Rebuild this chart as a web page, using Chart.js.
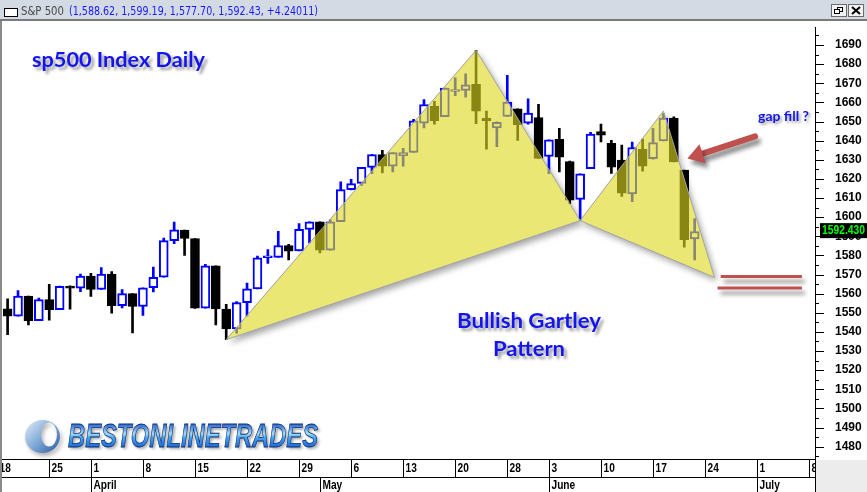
<!DOCTYPE html>
<html>
<head>
<meta charset="utf-8">
<script src="https://cdn.jsdelivr.net/npm/chart.js@4.4.1/dist/chart.umd.min.js"></script>
<style>
html, body { margin: 0; padding: 0; background: #fff; overflow: hidden; }
</style>
</head>
<body>
<canvas id="spx-chart" width="867" height="492"></canvas>
<script>
// S&P 500 daily, 19 Mar - 21 Jun (trading day index 0..66)
const days = ['3/19','3/20','3/21','3/22','3/25','3/26','3/27','3/28','4/1','4/2','4/3','4/4','4/5','4/8','4/9','4/10','4/11','4/12','4/15','4/16','4/17','4/18','4/19','4/22','4/23','4/24','4/25','4/26','4/29','4/30','5/1','5/2','5/3','5/6','5/7','5/8','5/9','5/10','5/13','5/14','5/15','5/16','5/17','5/20','5/21','5/22','5/23','5/24','5/28','5/29','5/30','5/31','6/3','6/4','6/5','6/6','6/7','6/10','6/11','6/12','6/13','6/14','6/17','6/18','6/19','6/20','6/21'];
const opens  = [1552.1,1548.3,1558.7,1545.9,1556.9,1551.7,1563.8,1562.9,1569.2,1562.2,1570.3,1553.7,1560.0,1553.3,1563.1,1568.6,1587.7,1593.3,1588.8,1552.4,1574.6,1552.0,1541.6,1555.3,1562.5,1578.8,1578.9,1585.2,1582.3,1593.6,1597.6,1582.8,1597.6,1614.4,1617.6,1626.0,1632.7,1626.7,1632.1,1633.8,1649.1,1658.1,1652.5,1665.7,1666.2,1669.4,1651.6,1646.7,1652.6,1656.6,1649.1,1652.1,1631.7,1640.7,1629.1,1609.3,1625.3,1644.7,1638.6,1629.9,1612.2,1635.5,1630.6,1639.8,1651.8,1624.6,1588.6];
const highs  = [1557.3,1561.6,1558.7,1557.7,1564.9,1564.0,1564.1,1570.3,1570.6,1573.7,1571.5,1562.2,1560.0,1563.1,1573.9,1589.1,1597.4,1593.3,1588.8,1575.4,1574.6,1554.4,1555.9,1565.6,1579.6,1583.0,1592.6,1585.8,1596.7,1597.6,1597.6,1598.6,1618.5,1619.8,1626.0,1632.8,1635.0,1633.7,1636.0,1651.1,1661.5,1660.5,1667.5,1672.8,1674.9,1687.2,1655.5,1649.8,1674.2,1656.6,1661.9,1659.0,1640.4,1646.5,1629.3,1622.6,1644.4,1648.7,1640.1,1637.7,1639.3,1640.8,1646.5,1654.2,1652.5,1624.6,1599.2];
const lows   = [1538.6,1548.3,1543.6,1545.9,1546.2,1551.7,1551.9,1561.1,1558.5,1562.2,1549.8,1552.5,1539.5,1548.6,1560.9,1568.6,1586.2,1580.0,1552.3,1552.4,1543.7,1536.0,1539.4,1548.2,1562.5,1575.8,1578.9,1577.6,1582.3,1586.5,1581.3,1582.8,1597.6,1614.2,1616.6,1622.7,1623.1,1623.7,1626.7,1633.8,1646.7,1648.6,1652.5,1663.5,1662.7,1648.9,1635.5,1636.9,1652.6,1640.1,1648.6,1630.7,1622.7,1623.6,1607.1,1598.2,1625.3,1639.3,1622.9,1610.9,1608.1,1624.0,1630.3,1639.8,1628.9,1584.3,1577.7];
const closes = [1548.3,1558.7,1545.8,1556.9,1551.7,1563.8,1562.9,1569.2,1562.2,1570.3,1553.7,1560.0,1553.3,1563.1,1568.6,1587.7,1593.4,1588.9,1552.4,1574.6,1552.0,1541.6,1555.3,1562.5,1578.8,1578.8,1585.2,1582.2,1593.6,1597.6,1582.7,1597.6,1614.4,1617.5,1626.0,1632.7,1626.7,1633.7,1633.8,1650.3,1658.8,1650.5,1667.5,1666.3,1669.2,1655.4,1650.5,1649.6,1660.1,1648.4,1654.4,1630.7,1640.4,1631.4,1608.9,1622.6,1643.4,1642.8,1626.1,1612.5,1636.4,1626.7,1639.0,1651.8,1628.9,1588.2,1592.4];

// axis labels
const weekIdx    = [-1, 4, 8, 13, 18, 23, 28, 33, 38, 43, 48, 52, 57, 62, 67, 72, 77];
const weekLabels = ['18','25','1','8','15','22','29','6','13','20','28','3','10','17','24','1','8'];
const monthIdx    = [8, 30, 52, 72];
const monthLabels = ['April', 'May', 'June', 'July'];
const priceTicks = [];
for (let v = 1475; v <= 1700; v += 5) priceTicks.push(v);

// Gartley legs (index, price)
const legOneX = [21, 45, 55, 21];
const legOneY = [1536.0, 1687.2, 1598.2, 1536.0];
const legTwoX = [55, 63, 67.9, 55];
const legTwoY = [1598.2, 1655.5, 1568.5, 1598.2];
const gapLevels = [1569, 1563];
const lastClose = 1592.43;

const up = days.map((d, i) => closes[i] >= opens[i]);
const triFill = 'rgba(222,216,30,0.62)';

// wanted frame: plot box 3..815 x 21..459, 1690 at y=45, 1480 at y=446.7
const frame = { left: 3, right: 815, top: 21, bottom: 459 };
const yPix = { hi: 1690, hiY: 45, lo: 1480, loY: 446.7 };

function condensed(ctx, text, x, y, sx) {
    ctx.save();
    ctx.translate(x, y);
    ctx.scale(sx, 1);
    ctx.fillText(text, 0, 0);
    ctx.restore();
}

function fitText(ctx, text, x, y, width) {
    const w = ctx.measureText(text).width;
    condensed(ctx, text, x, y, width / w);
}

function drawLogo(ctx) {
    ctx.save();
    ctx.shadowColor = 'rgba(0,0,0,0.3)';
    ctx.shadowBlur = 4;
    ctx.shadowOffsetX = 2;
    ctx.shadowOffsetY = 3;
    const rg = ctx.createLinearGradient(25, 420, 60, 453);
    rg.addColorStop(0, '#e6eef8');
    rg.addColorStop(0.5, '#7fa9d8');
    rg.addColorStop(1, '#2a5c9e');
    ctx.fillStyle = rg;
    ctx.beginPath();
    ctx.ellipse(42.5, 436.5, 17.5, 16.5, 0, 0, Math.PI * 2);
    ctx.moveTo(57, 434.5);
    ctx.ellipse(49, 434.5, 8, 12, 0, 0, Math.PI * 2);
    ctx.fill('evenodd');
    ctx.restore();

    ctx.save();
    ctx.font = 'italic bold 33px "Liberation Sans Narrow", "Arial Narrow", "Liberation Sans", Arial';
    ctx.textBaseline = 'alphabetic';
    const text = 'BESTONLINETRADES';
    const w = ctx.measureText(text).width;
    ctx.translate(68, 447);
    ctx.scale(250 / w, 1);
    const g = ctx.createLinearGradient(0, -24, 0, 0);
    g.addColorStop(0, '#1c58cc');
    g.addColorStop(0.45, '#a6e0ff');
    g.addColorStop(0.6, '#4aa6f0');
    g.addColorStop(1, '#1c6ad8');
    ctx.shadowColor = 'rgba(0,0,0,0.35)';
    ctx.shadowBlur = 3;
    ctx.shadowOffsetX = 2;
    ctx.shadowOffsetY = 2;
    ctx.fillStyle = g;
    ctx.fillText(text, 0, 0);
    ctx.shadowColor = 'transparent';
    ctx.strokeStyle = '#0d2f70';
    ctx.lineWidth = 0.8;
    ctx.strokeText(text, 0, 0);
    ctx.restore();
}

const decor = {
    id: 'decor',
    beforeDraw(chart) {
        const ctx = chart.ctx;
        ctx.save();
        ctx.fillStyle = '#fff';
        ctx.fillRect(0, 0, chart.width, chart.height);
        ctx.restore();
    },
    beforeDatasetsDraw(chart) {
        const ctx = chart.ctx, x = chart.scales.x, y = chart.scales.y;
        ctx.save();
        ctx.shadowColor = 'rgba(0,0,0,0.35)';
        ctx.shadowBlur = 6;
        ctx.shadowOffsetX = 3;
        ctx.shadowOffsetY = 4;
        ctx.fillStyle = '#fff';
        [[legOneX, legOneY], [legTwoX, legTwoY]].forEach(([xs, ys]) => {
            ctx.beginPath();
            xs.forEach((v, i) => {
                const px = x.getPixelForValue(v), py = y.getPixelForValue(ys[i]);
                i ? ctx.lineTo(px, py) : ctx.moveTo(px, py);
            });
            ctx.closePath();
            ctx.fill();
        });
        ctx.restore();
    },
    afterDraw(chart) {
        const ctx = chart.ctx, x = chart.scales.x, y = chart.scales.y;
        const area = chart.chartArea;

        // right axis tick marks
        ctx.save();
        ctx.strokeStyle = '#000';
        ctx.lineWidth = 1;
        priceTicks.forEach(v => {
            const py = Math.round(y.getPixelForValue(v)) + 0.5;
            if (py < area.top || py > area.bottom) return;
            ctx.beginPath();
            ctx.moveTo(area.right, py);
            ctx.lineTo(area.right + (v % 10 === 0 ? 9 : 4), py);
            ctx.stroke();
        });

        // last price box
        const ly = y.getPixelForValue(lastClose);
        ctx.fillStyle = '#000';
        ctx.fillRect(area.right + 5, ly - 8.5, 47, 15);
        ctx.fillStyle = '#00ff00';
        ctx.font = 'bold 12px "Liberation Sans", Arial';
        ctx.textBaseline = 'middle';
        fitText(ctx, lastClose.toFixed(3), area.right + 7, ly - 0.5, 43);

        // gap levels
        ctx.shadowColor = 'rgba(0,0,0,0.45)';
        ctx.shadowBlur = 4;
        ctx.shadowOffsetX = 3;
        ctx.shadowOffsetY = 5;
        ctx.strokeStyle = '#c0504d';
        ctx.lineWidth = 3;
        gapLevels.forEach((v, i) => {
            const py = y.getPixelForValue(v);
            ctx.beginPath();
            ctx.moveTo(x.getPixelForValue(i ? 68.2 : 68.5), py);
            ctx.lineTo(x.getPixelForValue(76.3), py);
            ctx.stroke();
        });

        // arrow to the gap
        const ax0 = x.getPixelForValue(71.8), ay0 = y.getPixelForValue(1642.2);
        const ax1 = x.getPixelForValue(65.3), ay1 = y.getPixelForValue(1630.6);
        const ang = Math.atan2(ay1 - ay0, ax1 - ax0);
        const hx = ax1 - Math.cos(ang) * 16, hy = ay1 - Math.sin(ang) * 16;
        ctx.lineWidth = 6;
        ctx.lineCap = 'round';
        ctx.beginPath();
        ctx.moveTo(ax0, ay0);
        ctx.lineTo(hx, hy);
        ctx.stroke();
        ctx.fillStyle = '#c0504d';
        ctx.beginPath();
        ctx.moveTo(ax1, ay1);
        ctx.lineTo(hx + Math.sin(ang) * 10, hy - Math.cos(ang) * 10);
        ctx.lineTo(hx - Math.sin(ang) * 10, hy + Math.cos(ang) * 10);
        ctx.closePath();
        ctx.fill();

        // notes
        ctx.shadowColor = 'rgba(0,0,0,0.4)';
        ctx.shadowBlur = 3;
        ctx.shadowOffsetX = 3;
        ctx.shadowOffsetY = 3;
        ctx.fillStyle = '#1414f0';
        ctx.textBaseline = 'alphabetic';
        ctx.font = 'bold 21px Lato, "Open Sans", sans-serif';
        fitText(ctx, 'sp500 Index Daily', 32, 67, 173);
        ctx.font = 'bold 20px Lato, "Open Sans", sans-serif';
        fitText(ctx, 'Bullish Gartley', 457, 328, 144);
        fitText(ctx, 'Pattern', 493, 356, 72);
        ctx.shadowOffsetX = 2;
        ctx.shadowOffsetY = 2;
        ctx.font = 'bold 13px Lato, "Open Sans", sans-serif';
        fitText(ctx, 'gap fill ?', 758, 121, 51);

        drawLogo(ctx);
        ctx.restore();

        // header bar
        ctx.save();
        ctx.fillStyle = '#d3dae4';
        ctx.fillRect(0, 0, chart.width, 20);
        ctx.fillStyle = '#7a7a7a';
        ctx.fillRect(0, 19, chart.width, 2);
        ctx.fillStyle = '#fff';
        ctx.strokeStyle = '#000';
        ctx.lineWidth = 1;
        ctx.fillRect(4.5, 8.5, 13, 8);
        ctx.strokeRect(4.5, 8.5, 13, 8);
        ctx.font = '11.5px "DejaVu Sans", "Liberation Sans", Arial';
        ctx.textBaseline = 'alphabetic';
        ctx.fillStyle = '#4a4a4a';
        fitText(ctx, 'S&P 500', 21, 15, 43);
        ctx.fillStyle = '#1a1af5';
        fitText(ctx, '(1,588.62, 1,599.19, 1,577.70, 1,592.43, +4.24011)', 69, 15, 249);
        [[831, 'r'], [848, 'x']].forEach(([bx, kind]) => {
            ctx.fillStyle = '#f2f2f2';
            ctx.fillRect(bx + 0.5, 4.5, 15, 12);
            ctx.strokeStyle = '#6b6b6b';
            ctx.strokeRect(bx + 0.5, 4.5, 15, 12);
            ctx.strokeStyle = '#000';
            if (kind === 'x') {
                ctx.lineWidth = 2;
                ctx.beginPath();
                ctx.moveTo(bx + 4, 7); ctx.lineTo(bx + 12, 14);
                ctx.moveTo(bx + 12, 7); ctx.lineTo(bx + 4, 14);
                ctx.stroke();
                ctx.lineWidth = 1;
            } else {
                ctx.strokeRect(bx + 6.5, 7.5, 5, 4);
                ctx.fillStyle = '#fff';
                ctx.fillRect(bx + 3.5, 9.5, 5, 4);
                ctx.strokeRect(bx + 3.5, 9.5, 5, 4);
            }
        });

        // left window border
        ctx.fillStyle = '#8a8a8a';
        ctx.fillRect(0, 21, 2, chart.height - 21);

        // date axis
        const top = frame.bottom, mid = frame.bottom + 18, bot = chart.height;
        ctx.fillStyle = '#fff';
        ctx.fillRect(2, top, area.right - 2, bot - top);
        ctx.fillStyle = '#ececec';
        ctx.fillRect(area.right + 1, top + 1, chart.width - area.right, bot - top);
        ctx.strokeStyle = '#000';
        ctx.lineWidth = 1;
        ctx.beginPath();
        ctx.moveTo(2, top + 0.5); ctx.lineTo(area.right + 0.5, top + 0.5);
        ctx.moveTo(2, mid + 0.5); ctx.lineTo(area.right + 0.5, mid + 0.5);
        ctx.moveTo(area.right + 0.5, area.bottom); ctx.lineTo(area.right + 0.5, bot);
        ctx.stroke();
        ctx.beginPath();
        ctx.rect(2, top, area.right - 2, bot - top);
        ctx.clip();
        ctx.fillStyle = '#000';
        ctx.font = 'bold 13px "Liberation Sans", Arial';
        ctx.textBaseline = 'middle';
        weekIdx.forEach((v, i) => {
            const px = Math.round(x.getPixelForValue(v)) + 0.5;
            ctx.beginPath();
            ctx.moveTo(px, top); ctx.lineTo(px, mid);
            ctx.stroke();
            condensed(ctx, weekLabels[i], px + 2, top + 9.5, 0.78);
        });
        monthIdx.forEach((v, i) => {
            const px = Math.round(x.getPixelForValue(v)) + 0.5;
            ctx.beginPath();
            ctx.moveTo(px, mid); ctx.lineTo(px, bot);
            ctx.stroke();
            condensed(ctx, monthLabels[i], px + 2, mid + 8.5, 0.78);
        });
        ctx.restore();
    }
};

const ctx = document.getElementById('spx-chart').getContext('2d');
const chart = new Chart(ctx, {
    type: 'bar',
    data: {
        datasets: [
            {
                type: 'line',
                data: legOneX.map((v, i) => ({ x: v, y: legOneY[i] })),
                borderColor: '#a3a3a3',
                borderWidth: 1,
                backgroundColor: triFill,
                fill: 'shape',
                pointRadius: 0,
                tension: 0,
                order: 0
            },
            {
                type: 'line',
                data: legTwoX.map((v, i) => ({ x: v, y: legTwoY[i] })),
                borderColor: '#a3a3a3',
                borderWidth: 1,
                backgroundColor: triFill,
                fill: 'shape',
                pointRadius: 0,
                tension: 0,
                order: 0
            },
            {
                label: 'body',
                data: days.map((d, i) => ({ x: i, y: [opens[i], closes[i]] })),
                backgroundColor: up.map(u => u ? '#ffffff' : '#000000'),
                borderColor: up.map(u => u ? '#0000ff' : '#000000'),
                borderWidth: 2,
                borderSkipped: false,
                barThickness: 9,
                minBarLength: 2,
                grouped: false,
                order: 1
            },
            {
                label: 'wick',
                data: days.map((d, i) => ({ x: i, y: [lows[i], highs[i]] })),
                backgroundColor: up.map(u => u ? '#0000ff' : '#000000'),
                borderWidth: 0,
                barThickness: 2,
                grouped: false,
                order: 2
            }
        ]
    },
    options: {
        responsive: false,
        animation: false,
        events: [],
        layout: { padding: { left: frame.left, top: frame.top, right: 0, bottom: 492 - frame.bottom } },
        scales: {
            x: {
                type: 'linear',
                min: -0.44,
                max: 77.56,
                offset: false,
                display: false
            },
            y: {
                type: 'linear',
                position: 'right',
                min: 1473.58,
                max: 1702.55,
                afterFit: s => { s.width = 867 - frame.right; },
                afterBuildTicks: s => { s.ticks = priceTicks.filter(v => v >= s.min && v <= s.max).map(v => ({ value: v })); },
                grid: { drawOnChartArea: false, drawTicks: false },
                border: { display: true, color: '#000', width: 1 },
                ticks: {
                    autoSkip: false,
                    padding: 20,
                    color: '#000',
                    font: { family: '"Liberation Sans", Arial', weight: 'bold', size: 12 },
                    callback: v => (v % 10 === 0 && v <= 1690) ? String(v) : ''
                }
            }
        },
        plugins: {
            legend: { display: false },
            tooltip: { enabled: false }
        }
    },
    plugins: [decor]
});

// pull the plot box back to the wanted frame, then pin the price scale to it
let a = chart.chartArea;
const pad = chart.options.layout.padding;
pad.top = frame.top - (a.top - frame.top);
pad.bottom = (492 - frame.bottom) - (frame.bottom - a.bottom);
chart.update();
a = chart.chartArea;
const perUnit = (yPix.loY - yPix.hiY) / (yPix.hi - yPix.lo);
chart.options.scales.y.max = yPix.hi + (yPix.hiY - a.top) / perUnit;
chart.options.scales.y.min = yPix.lo - (a.bottom - yPix.loY) / perUnit;
const xPer = 10.41;
chart.options.scales.x.min = -(7.6 - a.left) / xPer;
chart.options.scales.x.max = (a.right - 7.6) / xPer;
chart.update();
</script>
</body>
</html>
